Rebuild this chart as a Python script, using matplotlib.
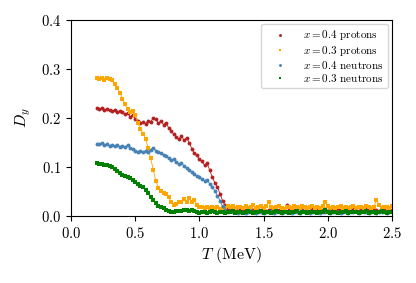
import numpy as np
import matplotlib
matplotlib.use("Agg")
import matplotlib.pyplot as plt

plt.rcParams['font.family'] = 'serif'
plt.rcParams['font.serif'] = ['cmr10', 'DejaVu Serif']
plt.rcParams['mathtext.fontset'] = 'cm'
plt.rcParams['axes.formatter.use_mathtext'] = True

T = np.round(np.arange(0.20, 2.501, 0.02), 2)

p04 = [0.220, 0.218, 0.221, 0.217, 0.219, 0.216, 0.214, 0.217, 0.213, 0.215,
       0.212, 0.208, 0.211, 0.203, 0.207, 0.199, 0.194, 0.190, 0.193, 0.188,
       0.195, 0.192, 0.201, 0.198, 0.190, 0.194, 0.187, 0.191, 0.180, 0.174,
       0.167, 0.162, 0.158, 0.163, 0.155, 0.160, 0.150, 0.138, 0.128, 0.124,
       0.116, 0.112, 0.104, 0.108, 0.094, 0.080, 0.068, 0.060, 0.046, 0.032,
       0.022, 0.015, 0.016, 0.012, 0.014, 0.011,
       0.013, 0.011, 0.012, 0.015, 0.010, 0.012, 0.014, 0.011, 0.013, 0.012,
       0.010, 0.013, 0.015, 0.012, 0.011, 0.013, 0.012, 0.014, 0.022, 0.012,
       0.011, 0.013, 0.012, 0.019, 0.012, 0.010, 0.013, 0.011, 0.014, 0.012,
       0.013, 0.011, 0.012, 0.014, 0.010, 0.012, 0.013, 0.011, 0.015, 0.012,
       0.011, 0.013, 0.012, 0.010, 0.014, 0.012, 0.011, 0.013, 0.012, 0.014,
       0.012, 0.011, 0.013, 0.012, 0.010, 0.014, 0.012, 0.011, 0.013, 0.012]

p03 = [0.282, 0.279, 0.281, 0.278, 0.282, 0.280, 0.277, 0.270, 0.262, 0.251,
       0.240, 0.228, 0.218, 0.213, 0.215, 0.206, 0.190, 0.178, 0.168, 0.158,
       0.140, 0.118, 0.095, 0.072, 0.058, 0.052, 0.048, 0.046, 0.040, 0.028,
       0.022, 0.025, 0.030, 0.028, 0.035, 0.030, 0.038, 0.028, 0.034, 0.022,
       0.019, 0.018, 0.016, 0.018, 0.017, 0.019, 0.016, 0.018, 0.015, 0.017,
       0.016, 0.020, 0.018, 0.021, 0.017, 0.019,
       0.018, 0.016, 0.020, 0.017, 0.019, 0.022, 0.016, 0.018, 0.020, 0.017,
       0.021, 0.028, 0.019, 0.016, 0.018, 0.020, 0.017, 0.015, 0.019, 0.018,
       0.016, 0.020, 0.018, 0.017, 0.021, 0.019, 0.016, 0.018, 0.020, 0.017,
       0.019, 0.016, 0.020, 0.030, 0.020, 0.017, 0.019, 0.016, 0.018, 0.020,
       0.017, 0.019, 0.016, 0.018, 0.021, 0.017, 0.019, 0.018, 0.016, 0.020,
       0.018, 0.017, 0.019, 0.033, 0.022, 0.017, 0.019, 0.018, 0.016, 0.020]

n04 = [0.148, 0.147, 0.149, 0.146, 0.147, 0.144, 0.146, 0.143, 0.145, 0.142,
       0.144, 0.141, 0.145, 0.140, 0.138, 0.134, 0.131, 0.133, 0.130, 0.134,
       0.131, 0.136, 0.139, 0.134, 0.131, 0.128, 0.125, 0.122, 0.118, 0.114,
       0.116, 0.110, 0.106, 0.108, 0.102, 0.099, 0.095, 0.090, 0.086, 0.082,
       0.079, 0.076, 0.072, 0.074, 0.066, 0.060, 0.052, 0.042, 0.032, 0.020,
       0.012, 0.009, 0.010, 0.008, 0.009, 0.007,
       0.008, 0.009, 0.007, 0.008, 0.010, 0.008, 0.007, 0.009, 0.008, 0.007,
       0.009, 0.008, 0.010, 0.007, 0.008, 0.009, 0.007, 0.008, 0.009, 0.008,
       0.007, 0.009, 0.008, 0.007, 0.010, 0.008, 0.009, 0.007, 0.008, 0.009,
       0.008, 0.007, 0.009, 0.008, 0.010, 0.007, 0.008, 0.009, 0.008, 0.007,
       0.009, 0.008, 0.007, 0.009, 0.008, 0.010, 0.007, 0.008, 0.009, 0.008,
       0.007, 0.009, 0.008, 0.007, 0.009, 0.008, 0.010, 0.007, 0.008, 0.009]

n03 = [0.108, 0.107, 0.106, 0.105, 0.104, 0.103, 0.100, 0.097, 0.093, 0.088,
       0.084, 0.082, 0.079, 0.077, 0.074, 0.070, 0.066, 0.062, 0.060, 0.054,
       0.047, 0.040, 0.033, 0.026, 0.021, 0.018, 0.016, 0.013, 0.011, 0.008,
       0.009, 0.010, 0.011, 0.010, 0.012, 0.013, 0.011, 0.012, 0.010, 0.008,
       0.007, 0.008, 0.009, 0.007, 0.008, 0.010, 0.008, 0.007, 0.009, 0.008,
       0.007, 0.009, 0.008, 0.010, 0.007, 0.008,
       0.009, 0.007, 0.008, 0.010, 0.008, 0.007, 0.009, 0.008, 0.011, 0.007,
       0.008, 0.009, 0.007, 0.008, 0.010, 0.008, 0.007, 0.009, 0.008, 0.007,
       0.009, 0.008, 0.010, 0.007, 0.008, 0.009, 0.007, 0.008, 0.009, 0.008,
       0.007, 0.009, 0.008, 0.012, 0.008, 0.007, 0.009, 0.008, 0.007, 0.009,
       0.008, 0.010, 0.007, 0.008, 0.009, 0.008, 0.007, 0.009, 0.008, 0.010,
       0.007, 0.008, 0.009, 0.007, 0.008, 0.010, 0.008, 0.007, 0.009, 0.008]

series = [
    (p04, '#b22222', 'o', r'$x = 0.4$ protons'),
    (p03, '#ffa500', 's', r'$x = 0.3$ protons'),
    (n04, '#4682b4', 'o', r'$x = 0.4$ neutrons'),
    (n03, '#008000', 's', r'$x = 0.3$ neutrons'),
]

fig = plt.figure(figsize=(4.16, 2.83), dpi=100)
ax = fig.add_axes([0.171, 0.236, 0.771, 0.693])
for y, c, m, lab in series:
    ax.plot(T, y, color=c, marker=m, markersize=2.8, linewidth=0.6,
            markeredgewidth=0, label=lab)

ax.set_xlim(0, 2.5)
ax.set_ylim(0, 0.4)
ax.set_xticks([0.0, 0.5, 1.0, 1.5, 2.0, 2.5])
ax.set_yticks([0.0, 0.1, 0.2, 0.3, 0.4])
ax.tick_params(labelsize=10.5, length=3.5, width=0.8)
ax.set_xlabel(r'$T$ (MeV)', fontsize=11.5, labelpad=3)
ax.set_ylabel(r'$D_y$', fontsize=11.5, labelpad=6)

leg = ax.legend(loc='upper right', fontsize=8.0, markerscale=0.75,
                handlelength=2.6, handletextpad=0.8, labelspacing=0.1,
                borderpad=0.4, borderaxespad=0.35, fancybox=True,
                framealpha=0.8, edgecolor='#cccccc')
for lh in leg.legend_handles:
    lh.set_linestyle('')

fig.savefig('out.png', dpi=100)
